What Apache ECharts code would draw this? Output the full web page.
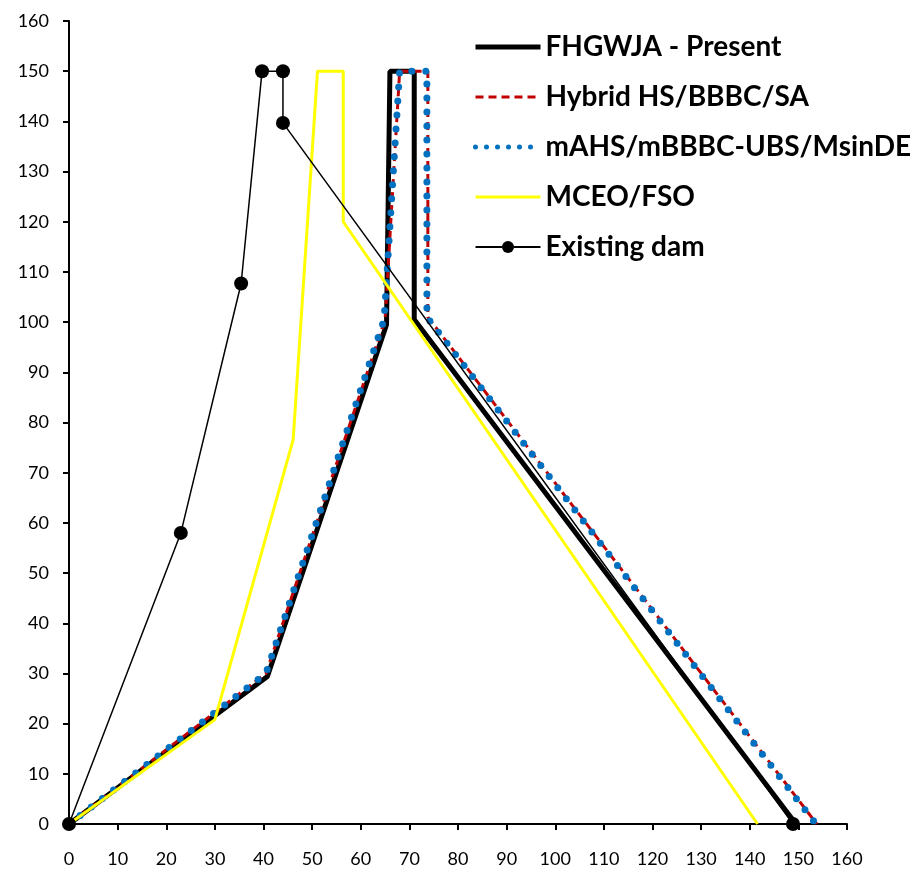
<!DOCTYPE html>
<html>
<head>
<meta charset="utf-8">
<script src="https://cdn.jsdelivr.net/npm/echarts@6/dist/echarts.min.js"></script>
<style>html,body{margin:0;padding:0;background:#fff}#c{width:915px;height:871px}</style>
</head>
<body>
<div id="c"></div>
<script>
var xTicks = [0,10,20,30,40,50,60,70,80,90,100,110,120,130,140,150,160];
var yTicks = [0,10,20,30,40,50,60,70,80,90,100,110,120,130,140,150,160];
var seriesNames = ['FHGWJA - Present','Hybrid HS/BBBC/SA','mAHS/mBBBC-UBS/MsinDE','MCEO/FSO','Existing dam'];
var fhgwja = [[0,0],[40.8,29.4],[65.3,99.5],[66.0,150],[71.0,150],[71.0,100.5],[149.5,0]];
var hybrid = [[0,0],[40.5,30.0],[65.0,100.5],[68.0,150],[73.8,150],[73.8,101.0],[153.8,0]];
var mahs   = [[0,0],[40.5,30.0],[64.8,100.5],[68.0,150],[73.6,150],[73.6,101.0],[153.6,0]];
var mceo   = [[0,0],[30.0,20.8],[46.1,76.6],[51.1,150],[56.4,150],[56.4,120.0],[141.6,0]];
var existing = [[0,0],[23.0,58.0],[35.4,107.7],[39.7,150],[44.0,150],[44.0,139.7],[148.9,0]];

var chart = echarts.init(document.getElementById('c'));
var axisCommon = {
  type: 'value', min: 0, max: 160, interval: 10,
  splitLine: {show: false},
  axisLine: {show: true, onZero: false, lineStyle: {color: '#000', width: 2}},
  axisTick: {show: true, inside: false, length: 6, lineStyle: {color: '#000', width: 2}},
  axisLabel: {color: '#000', fontSize: 18, fontFamily: 'Lato'}
};
var noSym = {opacity: 0};
chart.setOption({
  animation: false,
  grid: {left: 69, right: 68, top: 21, bottom: 47, containLabel: false},
  xAxis: Object.assign({}, axisCommon, {axisLabel: Object.assign({}, axisCommon.axisLabel, {margin: 26})}),
  yAxis: Object.assign({}, axisCommon, {axisLabel: Object.assign({}, axisCommon.axisLabel, {margin: 20})}),
  legend: {
    orient: 'vertical', left: 473, top: 33, padding: 0,
    itemWidth: 65, itemHeight: 15, itemGap: 22,
    data: [
      {name: seriesNames[0], itemStyle: noSym, lineStyle: {width: 5, color: '#000'}},
      {name: seriesNames[1], itemStyle: noSym, lineStyle: {width: 3, color: '#c00000', type: [8, 5]}},
      {name: seriesNames[2], itemStyle: noSym, lineStyle: {width: 5, color: '#0070c0', type: [0, 11], cap: 'round'}},
      {name: seriesNames[3], itemStyle: noSym, lineStyle: {width: 3, color: '#ffff00'}},
      {name: seriesNames[4], lineStyle: {width: 2, color: '#000'}}
    ],
    textStyle: {fontSize: 28, fontWeight: 'bold', fontFamily: 'Lato', color: '#000', lineHeight: 20}
  },
  series: [
    {name: seriesNames[0], type: 'line', data: fhgwja, symbol: 'none', lineStyle: {color: '#000', width: 5}, itemStyle: {color: '#000'}},
    {name: seriesNames[1], type: 'line', data: hybrid, symbol: 'none', lineStyle: {color: '#c00000', width: 3, type: [8, 5]}, itemStyle: {color: '#c00000'}},
    {name: seriesNames[2], type: 'line', data: mahs, symbol: 'none', lineStyle: {color: '#0070c0', width: 7, type: [0, 14], cap: 'round'}, itemStyle: {color: '#0070c0'}},
    {name: seriesNames[3], type: 'line', data: mceo, symbol: 'none', lineStyle: {color: '#ffff00', width: 3}, itemStyle: {color: '#ffff00'}},
    {name: seriesNames[4], type: 'line', data: existing, symbol: 'circle', symbolSize: 14, lineStyle: {color: '#000', width: 1.5}, itemStyle: {color: '#000'}}
  ]
});
</script>
</body>
</html>
